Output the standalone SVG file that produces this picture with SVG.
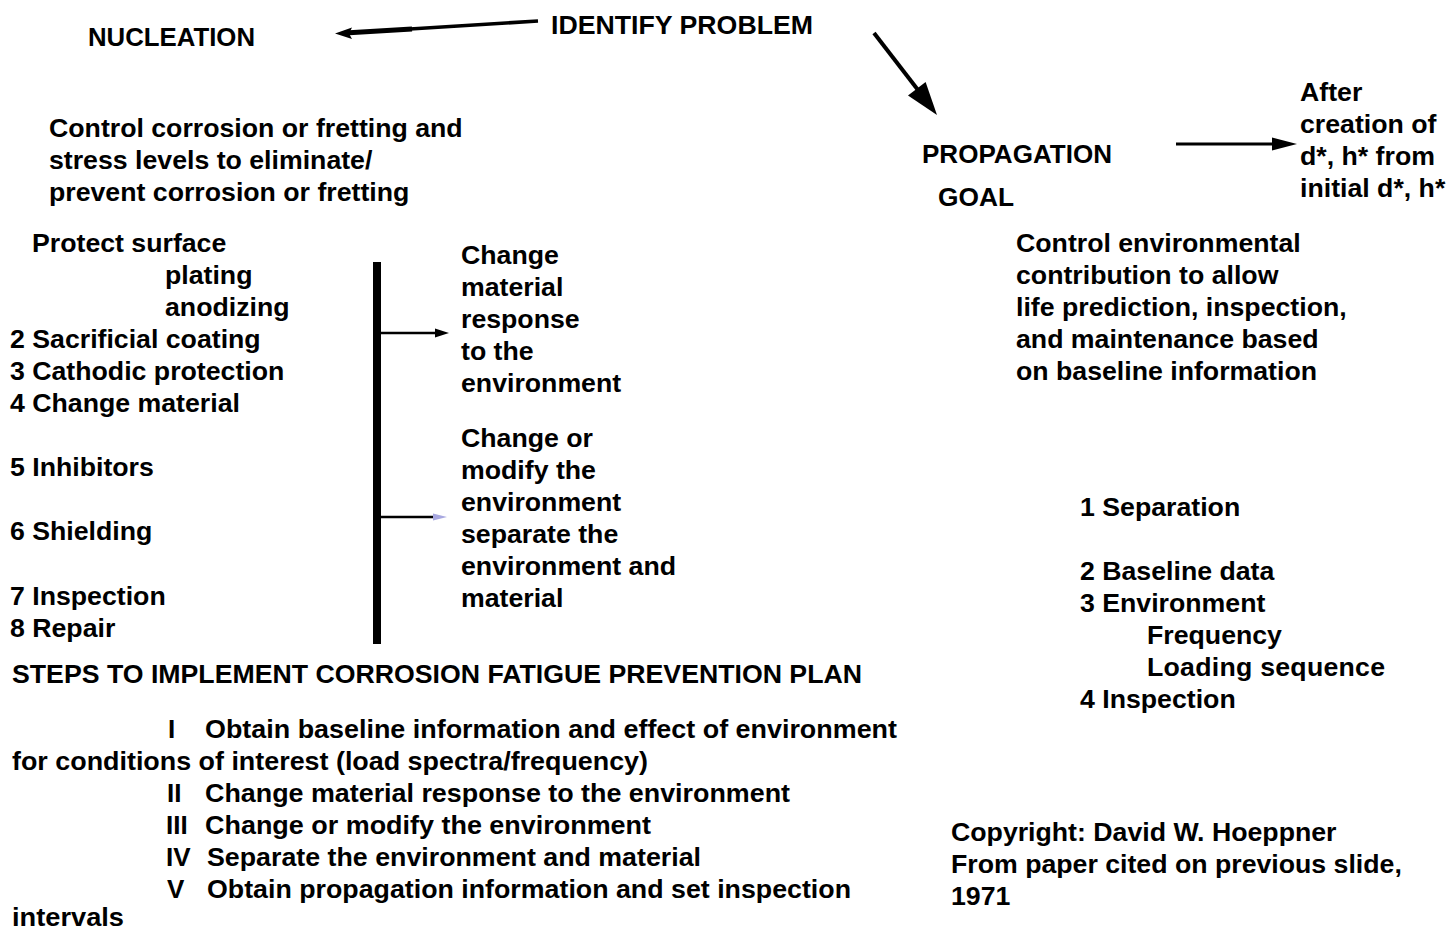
<svg xmlns="http://www.w3.org/2000/svg" width="1451" height="930" viewBox="0 0 1451 930">
<style>
.t{font-family:"Liberation Sans",Arial,"DejaVu Sans",sans-serif;font-weight:bold;font-size:26.7px;fill:#000}
.n{font-family:"Liberation Sans Narrow","Liberation Sans",Arial,sans-serif;font-weight:bold;font-size:26px;fill:#000}
.ln{stroke:#000;fill:none;stroke-linecap:butt}
</style>
<rect width="1451" height="930" fill="#fff"/>
<g id="identify"><text class="t" x="551" y="34" textLength="262" lengthAdjust="spacingAndGlyphs">IDENTIFY PROBLEM</text></g>
<g id="nucleation"><text class="t" x="88" y="46" textLength="167" lengthAdjust="spacingAndGlyphs">NUCLEATION</text></g>
<g id="nucleation-goal">
<text class="t" x="49" y="137">Control corrosion or fretting and</text>
<text class="t" x="49" y="169">stress levels to eliminate/</text>
<text class="t" x="49" y="201">prevent corrosion or fretting</text>
</g>
<g id="nucleation-list">
<text class="t" x="32" y="252">Protect surface</text>
<text class="t" x="165" y="284">plating</text>
<text class="t" x="165" y="316">anodizing</text>
<text class="t" x="10" y="348">2 Sacrificial  coating</text>
<text class="t" x="10" y="380">3 Cathodic protection</text>
<text class="t" x="10" y="412">4 Change material</text>
<text class="t" x="10" y="476">5 Inhibitors</text>
<text class="t" x="10" y="540">6 Shielding</text>
<text class="t" x="10" y="605">7 Inspection</text>
<text class="t" x="10" y="637">8 Repair</text>
</g>
<g id="change-material">
<text class="t" x="461" y="264">Change</text>
<text class="t" x="461" y="296">material</text>
<text class="t" x="461" y="328">response</text>
<text class="t" x="461" y="360">to the</text>
<text class="t" x="461" y="392">environment</text>
</g>
<g id="change-environment">
<text class="t" x="461" y="447">Change or</text>
<text class="t" x="461" y="479">modify the</text>
<text class="t" x="461" y="511">environment</text>
<text class="t" x="461" y="543">separate the</text>
<text class="t" x="461" y="575">environment and</text>
<text class="t" x="461" y="607">material</text>
</g>
<g id="steps">
<text class="n" x="12" y="683" textLength="850" lengthAdjust="spacingAndGlyphs">STEPS TO IMPLEMENT CORROSION FATIGUE PREVENTION  PLAN</text>
<text class="n" x="168" y="738">I</text>
<text class="n" x="205" y="738" textLength="692" lengthAdjust="spacingAndGlyphs">Obtain baseline information and effect of environment</text>
<text class="n" x="12" y="770" textLength="636" lengthAdjust="spacingAndGlyphs">for conditions of interest (load spectra/frequency)</text>
<text class="n" x="167" y="802">II</text>
<text class="n" x="205" y="802" textLength="585" lengthAdjust="spacingAndGlyphs">Change material response to the environment</text>
<text class="n" x="166" y="834">III</text>
<text class="n" x="205" y="834" textLength="446" lengthAdjust="spacingAndGlyphs">Change or modify the environment</text>
<text class="n" x="166" y="866">IV</text>
<text class="n" x="207" y="866" textLength="494" lengthAdjust="spacingAndGlyphs">Separate the environment and material</text>
<text class="n" x="167" y="898">V</text>
<text class="n" x="207" y="898" textLength="644" lengthAdjust="spacingAndGlyphs">Obtain propagation information and set inspection</text>
<text class="n" x="12" y="926" textLength="112" lengthAdjust="spacingAndGlyphs">intervals</text>
</g>
<g id="propagation">
<text class="t" x="922" y="163" textLength="190" lengthAdjust="spacingAndGlyphs">PROPAGATION</text>
<text class="t" x="938" y="206" textLength="76" lengthAdjust="spacingAndGlyphs">GOAL</text>
</g>
<g id="after">
<text class="t" x="1300" y="101">After</text>
<text class="t" x="1300" y="133">creation of</text>
<text class="t" x="1300" y="165">d*, h* from</text>
<text class="t" x="1300" y="197">initial  d*, h*</text>
</g>
<g id="propagation-goal">
<text class="t" x="1016" y="252">Control environmental</text>
<text class="t" x="1016" y="284">contribution to allow</text>
<text class="t" x="1016" y="316">life  prediction, inspection,</text>
<text class="t" x="1016" y="348">and maintenance based</text>
<text class="t" x="1016" y="380">on baseline information</text>
</g>
<g id="propagation-list">
<text class="t" x="1080" y="516">1 Separation</text>
<text class="t" x="1080" y="580">2 Baseline data</text>
<text class="t" x="1080" y="612">3 Environment</text>
<text class="t" x="1147" y="644">Frequency</text>
<text class="t" x="1147" y="676" textLength="238" lengthAdjust="spacing">Loading sequence</text>
<text class="t" x="1080" y="708">4 Inspection</text>
</g>
<g id="copyright">
<text class="t" x="951" y="841">Copyright: David W. Hoeppner</text>
<text class="t" x="951" y="873">From paper cited on previous slide,</text>
<text class="t" x="951" y="905">1971</text>
</g>
<g id="connectors">
<path class="ln" d="M538 21 L410 29" stroke-width="3.5"/>
<path class="ln" d="M412 29 L345 33" stroke-width="5"/>
<polygon points="335,33.5 352,27.5 349,33.5 352,39" fill="#000"/>
<path class="ln" d="M874 33 L918 90" stroke-width="4"/>
<polygon points="937,115 908,95.5 925.6,82" fill="#000"/>
<path class="ln" d="M1176 144 L1276 144" stroke-width="3"/>
<polygon points="1272,137.5 1297,144 1272,150.5" fill="#000"/>
<rect x="373" y="262" width="8" height="382" fill="#000"/>
<path class="ln" d="M381 333 L438 333" stroke-width="2.5"/>
<polygon points="435,328.5 449,333 435,337.5" fill="#000"/>
<path class="ln" d="M381 517 L434 517" stroke-width="2.5"/>
<polygon points="433,513.5 447,517 433,520.5" fill="#a8a8e0"/>
</g>
</svg>
